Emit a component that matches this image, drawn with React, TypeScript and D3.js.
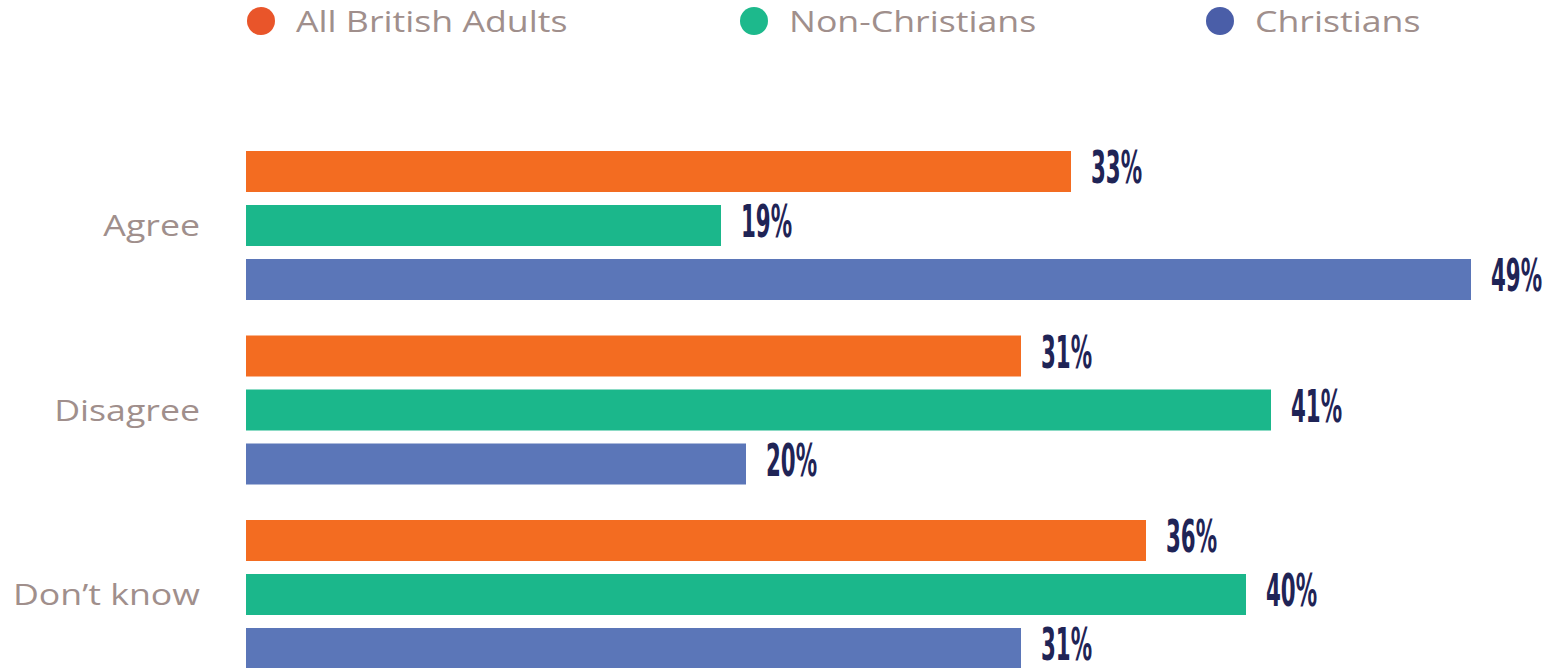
import React from "react";
import * as d3 from "d3";

const categories = ["Agree", "Disagree", "Don\u2019t know"];
const seriesNames = ["All British Adults", "Non-Christians", "Christians"];
const allBritishAdults = [33, 31, 36];
const nonChristians = [19, 41, 40];
const christians = [49, 20, 31];
const seriesValues = [allBritishAdults, nonChristians, christians];

const barColors = ["#f36c21", "#1bb78b", "#5b76b8"];
const legendColors = ["#e9552a", "#1db98c", "#4a5ea8"];
const legendX = [261, 754, 1220];

const W = 1550;
const H = 668;

export default function App() {
  const x = d3.scaleLinear().domain([0, 50]).range([246, 1496]);
  const y0 = d3.scaleBand().domain(categories).range([151, 151 + 3 * 184.5]).padding(0);
  const y1 = d3
    .scaleBand()
    .domain(seriesNames)
    .range([0, 149])
    .paddingInner(13 / 54)
    .paddingOuter(0);

  const labelFont = "'Open Sans', 'DejaVu Sans', sans-serif";
  const textColor = "#a08f8c";
  const wide = 1.19;

  return (
    <svg
      width={W}
      height={H}
      style={{ position: "absolute", left: 0, top: 0, display: "block", background: "#fff" }}
    >
      {seriesNames.map((s, i) => (
        <g key={s}>
          <circle cx={legendX[i]} cy={21} r={14} fill={legendColors[i]} />
          <g transform={`translate(${legendX[i] + 35},32) scale(${wide},1)`}>
            <text x={0} y={0} fontFamily={labelFont} fontSize={30} fill={textColor}>
              {s}
            </text>
          </g>
        </g>
      ))}
      {categories.map((c, ci) => {
        const gy = y0(c) as number;
        const mid = gy + (y1(seriesNames[1]) as number) + y1.bandwidth() / 2;
        return (
          <g key={c}>
            <g transform={`translate(200,${mid + 10.5}) scale(${wide},1)`}>
              <text x={0} y={0} textAnchor="end" fontFamily={labelFont} fontSize={30} fill={textColor}>
                {c}
              </text>
            </g>
            {seriesNames.map((s, si) => {
              const v = seriesValues[si][ci];
              const by = gy + (y1(s) as number);
              const bx = x(v);
              const tx = bx + 20;
              return (
                <g key={s}>
                  <rect x={x(0)} y={by} width={bx - x(0)} height={y1.bandwidth()} fill={barColors[si]} />
                  <g transform={`translate(${tx},${by + 32}) scale(0.54,1)`}>
                    <text
                      x={0}
                      y={0}
                      fontFamily="'DejaVu Sans', sans-serif"
                      fontStretch="condensed"
                      fontWeight="bold"
                      fontSize={44}
                      fill="#1f2456"
                    >
                      {v}%
                    </text>
                  </g>
                </g>
              );
            })}
          </g>
        );
      })}
    </svg>
  );
}
